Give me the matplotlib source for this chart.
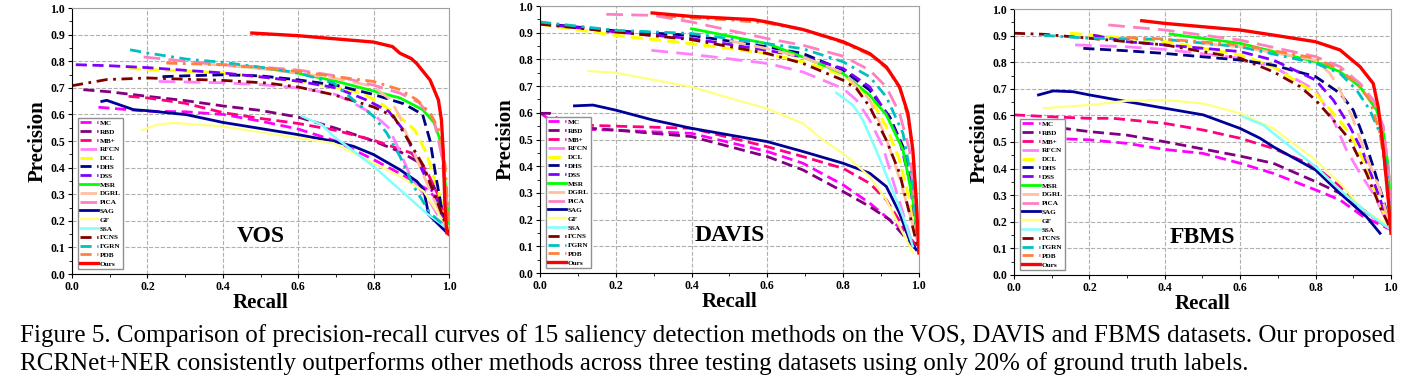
import matplotlib
matplotlib.use('Agg')
import matplotlib.pyplot as plt
from matplotlib.ticker import MultipleLocator

plt.rcParams['font.family'] = ['Liberation Serif', 'DejaVu Serif']

methods = ['MC', 'RBD', 'MB+', 'RFCN', 'DCL', 'DHS', 'DSS', 'MSR', 'DGRL', 'PiCA',
           'SAG', 'GF', 'SSA', 'FCNS', 'FGRN', 'PDB', 'Ours']
colors = ['#FF00FF', '#800080', '#FF0080', '#FF80FF', '#FFFF00', '#000080', '#8000FF',
          '#00FF00', '#FFC0A0', '#FF80C0', '#000099', '#FFFF80', '#80FFFF', '#800000',
          '#00C0C0', '#FF8040', '#FF0000']

DASH = (0, (4, 2))
LDASH = (0, (6, 3))
DDOT = (0, (4, 2, 1, 2))
styles = [DASH, DASH, DASH, LDASH, DASH, DASH, DASH, '-', LDASH, LDASH,
          '-', '-', '-', DDOT, DDOT, DDOT, '-']
widths = [2, 2, 2, 2, 2.2, 2, 2, 2, 2, 2, 2, 1.6, 1.8, 2, 2, 2, 2.4]

# recall / precision per dataset
vos = {
    'MC': ([0.07, 0.2, 0.3, 0.4, 0.5, 0.6, 0.7, 0.8, 0.88, 0.94, 0.97, 1.0],
           [0.627, 0.612, 0.61, 0.6, 0.575, 0.545, 0.5, 0.43, 0.37, 0.32, 0.28, 0.16]),
    'RBD': ([0.03, 0.1, 0.2, 0.3, 0.4, 0.5, 0.6, 0.7, 0.8, 0.87, 0.92, 0.96, 0.98, 1.0],
            [0.693, 0.685, 0.668, 0.652, 0.632, 0.615, 0.59, 0.548, 0.5, 0.46, 0.42, 0.33, 0.25, 0.17]),
    'MB+': ([0.15, 0.2, 0.3, 0.4, 0.5, 0.6, 0.7, 0.8, 0.9, 0.94, 0.97, 1.0],
            [0.668, 0.662, 0.642, 0.607, 0.585, 0.566, 0.54, 0.503, 0.455, 0.39, 0.3, 0.16]),
    'RFCN': ([0.23, 0.3, 0.4, 0.5, 0.6, 0.7, 0.75, 0.8, 0.84, 0.87, 0.9, 0.95, 1.0],
             [0.724, 0.722, 0.719, 0.712, 0.7, 0.675, 0.64, 0.6, 0.55, 0.46, 0.36, 0.27, 0.15]),
    'DCL': ([0.15, 0.2, 0.3, 0.4, 0.5, 0.6, 0.7, 0.77, 0.82, 0.87, 0.91, 0.94, 0.97, 1.0],
            [0.774, 0.768, 0.763, 0.756, 0.742, 0.724, 0.703, 0.68, 0.64, 0.59, 0.54, 0.455, 0.32, 0.17]),
    'DHS': ([0.24, 0.3, 0.4, 0.5, 0.6, 0.7, 0.8, 0.88, 0.93, 0.95, 0.965, 0.98, 1.0],
            [0.742, 0.745, 0.749, 0.745, 0.73, 0.71, 0.675, 0.64, 0.6, 0.5, 0.37, 0.25, 0.165]),
    'DSS': ([0.01, 0.1, 0.2, 0.3, 0.4, 0.5, 0.6, 0.7, 0.78, 0.84, 0.88, 0.915, 0.95, 0.985, 1.0],
            [0.787, 0.783, 0.776, 0.766, 0.756, 0.741, 0.725, 0.7, 0.655, 0.612, 0.54, 0.43, 0.33, 0.2, 0.16]),
    'MSR': ([0.45, 0.5, 0.6, 0.7, 0.8, 0.87, 0.93, 0.96, 0.975, 0.985, 0.993, 1.0],
            [0.781, 0.776, 0.755, 0.725, 0.688, 0.662, 0.618, 0.57, 0.51, 0.42, 0.3, 0.17]),
    'DGRL': ([0.35, 0.4, 0.5, 0.6, 0.7, 0.8, 0.845, 0.87, 0.9, 0.93, 0.96, 1.0],
             [0.79, 0.785, 0.772, 0.755, 0.735, 0.705, 0.655, 0.59, 0.48, 0.38, 0.28, 0.17]),
    'PiCA': ([0.19, 0.3, 0.4, 0.5, 0.6, 0.7, 0.8, 0.87, 0.92, 0.96, 0.98, 1.0],
             [0.816, 0.8, 0.787, 0.778, 0.767, 0.745, 0.71, 0.68, 0.645, 0.58, 0.45, 0.2]),
    'SAG': ([0.079, 0.092, 0.163, 0.2, 0.304, 0.4, 0.6, 0.694, 0.747, 0.8, 0.87, 0.915, 0.933, 0.946, 1.0],
            [0.649, 0.653, 0.618, 0.614, 0.599, 0.57, 0.524, 0.499, 0.48, 0.449, 0.392, 0.348, 0.317, 0.223, 0.148]),
    'GF': ([0.185, 0.225, 0.269, 0.4, 0.6, 0.694, 0.8, 0.87, 0.933, 1.0],
           [0.54, 0.561, 0.568, 0.555, 0.511, 0.492, 0.417, 0.367, 0.311, 0.167]),
    'SSA': ([0.61, 0.663, 0.694, 0.8, 0.87, 0.94, 1.0],
            [0.593, 0.561, 0.518, 0.405, 0.317, 0.229, 0.167]),
    'FCNS': ([0.0, 0.092, 0.2, 0.4, 0.517, 0.6, 0.694, 0.8, 0.853, 0.897, 0.933, 0.96, 1.0],
             [0.708, 0.731, 0.737, 0.728, 0.718, 0.703, 0.674, 0.628, 0.593, 0.492, 0.405, 0.305, 0.154]),
    'FGRN': ([0.154, 0.2, 0.304, 0.4, 0.517, 0.6, 0.694, 0.756, 0.8, 0.835, 0.87, 0.906, 0.95, 1.0],
             [0.843, 0.831, 0.808, 0.796, 0.774, 0.756, 0.718, 0.643, 0.593, 0.53, 0.442, 0.33, 0.229, 0.167]),
    'PDB': ([0.25, 0.4, 0.6, 0.694, 0.8, 0.87, 0.915, 0.95, 0.977, 0.99, 1.0],
            [0.793, 0.787, 0.762, 0.743, 0.724, 0.693, 0.655, 0.605, 0.53, 0.405, 0.167]),
    'Ours': ([0.477, 0.6, 0.8, 0.85, 0.87, 0.9, 0.914, 0.95, 0.972, 0.98, 0.985, 0.989, 0.994, 1.0],
             [0.906, 0.896, 0.872, 0.855, 0.83, 0.81, 0.792, 0.729, 0.654, 0.579, 0.455, 0.267, 0.154, 0.15]),
}

davis = {
    'MC': ([0.0, 0.06, 0.2, 0.4, 0.6, 0.694, 0.8, 0.87, 0.923, 0.958, 0.993],
           [0.6, 0.54, 0.535, 0.523, 0.455, 0.411, 0.33, 0.262, 0.199, 0.162, 0.1]),
    'RBD': ([0.0, 0.026, 0.078, 0.2, 0.4, 0.6, 0.694, 0.8, 0.87, 0.923, 0.993],
            [0.598, 0.598, 0.548, 0.535, 0.511, 0.436, 0.386, 0.305, 0.249, 0.199, 0.087]),
    'MB+': ([0.113, 0.2, 0.4, 0.6, 0.694, 0.8, 0.87, 0.914, 0.958, 0.993],
            [0.554, 0.55, 0.542, 0.473, 0.436, 0.392, 0.336, 0.274, 0.174, 0.1]),
    'RFCN': ([0.294, 0.4, 0.6, 0.694, 0.8, 0.835, 0.87, 0.905, 0.931, 0.958, 0.984],
             [0.834, 0.819, 0.785, 0.753, 0.691, 0.648, 0.573, 0.473, 0.349, 0.224, 0.1]),
    'DCL': ([0.0, 0.2, 0.4, 0.6, 0.694, 0.8, 0.87, 0.914, 0.949, 0.975, 1.0],
            [0.932, 0.89, 0.859, 0.822, 0.791, 0.741, 0.66, 0.548, 0.423, 0.274, 0.1]),
    'DHS': ([0.0, 0.2, 0.4, 0.6, 0.694, 0.8, 0.87, 0.923, 0.958, 0.984, 1.0],
            [0.935, 0.907, 0.89, 0.847, 0.822, 0.76, 0.685, 0.585, 0.473, 0.299, 0.1]),
    'DSS': ([0.0, 0.2, 0.4, 0.6, 0.694, 0.8, 0.87, 0.914, 0.949, 0.975, 1.0],
            [0.934, 0.903, 0.878, 0.834, 0.809, 0.766, 0.697, 0.598, 0.498, 0.349, 0.1]),
    'MSR': ([0.4, 0.6, 0.694, 0.8, 0.87, 0.914, 0.958, 0.984, 1.0],
            [0.915, 0.859, 0.809, 0.747, 0.666, 0.592, 0.461, 0.274, 0.1]),
    'DGRL': ([0.5, 0.6, 0.7, 0.8, 0.87, 0.915, 0.95, 0.98, 1.0],
             [0.87, 0.84, 0.805, 0.75, 0.65, 0.5, 0.35, 0.2, 0.1]),
    'PiCA': ([0.175, 0.298, 0.4, 0.6, 0.694, 0.8, 0.87, 0.914, 0.949, 0.975, 0.988, 1.0],
             [0.969, 0.965, 0.94, 0.878, 0.853, 0.812, 0.76, 0.697, 0.598, 0.461, 0.274, 0.1]),
    'SAG': ([0.091, 0.14, 0.2, 0.298, 0.4, 0.6, 0.694, 0.8, 0.87, 0.914, 0.949, 0.975, 0.993],
            [0.626, 0.629, 0.61, 0.573, 0.542, 0.492, 0.455, 0.411, 0.374, 0.324, 0.224, 0.125, 0.087]),
    'GF': ([0.127, 0.166, 0.2, 0.4, 0.518, 0.6, 0.694, 0.747, 0.8, 0.87, 0.914, 0.958, 0.984],
           [0.757, 0.753, 0.75, 0.697, 0.648, 0.616, 0.56, 0.498, 0.448, 0.361, 0.274, 0.149, 0.075]),
    'SSA': ([0.782, 0.826, 0.852, 0.887, 0.923, 0.958, 0.984],
            [0.675, 0.629, 0.573, 0.461, 0.336, 0.212, 0.1]),
    'FCNS': ([0.0, 0.2, 0.4, 0.6, 0.694, 0.8, 0.835, 0.87, 0.914, 0.949, 0.975, 1.0],
             [0.932, 0.903, 0.874, 0.822, 0.785, 0.722, 0.691, 0.623, 0.498, 0.374, 0.224, 0.075]),
    'FGRN': ([0.0, 0.2, 0.4, 0.6, 0.694, 0.8, 0.87, 0.914, 0.958, 0.984, 1.0],
             [0.94, 0.909, 0.897, 0.859, 0.84, 0.791, 0.735, 0.66, 0.523, 0.324, 0.112]),
    'PDB': ([0.33, 0.4, 0.5, 0.6, 0.7, 0.8, 0.87, 0.92, 0.95, 0.97, 0.985, 1.0],
            [0.963, 0.955, 0.948, 0.936, 0.91, 0.862, 0.818, 0.76, 0.69, 0.59, 0.45, 0.09]),
    'Ours': ([0.296, 0.4, 0.562, 0.6, 0.694, 0.8, 0.87, 0.914, 0.949, 0.971, 0.984, 0.993, 1.0],
             [0.974, 0.961, 0.949, 0.94, 0.912, 0.866, 0.822, 0.772, 0.697, 0.598, 0.461, 0.274, 0.075]),
}

fbms = {
    'MC': ([0.095, 0.2, 0.299, 0.4, 0.502, 0.6, 0.688, 0.8, 0.865, 0.927, 1.0],
           [0.514, 0.508, 0.495, 0.472, 0.457, 0.42, 0.382, 0.32, 0.282, 0.219, 0.17]),
    'RBD': ([0.034, 0.095, 0.2, 0.299, 0.4, 0.6, 0.688, 0.8, 0.865, 0.927, 1.0],
            [0.57, 0.558, 0.539, 0.526, 0.501, 0.447, 0.42, 0.351, 0.307, 0.244, 0.17]),
    'MB+': ([0.0, 0.095, 0.2, 0.263, 0.4, 0.502, 0.6, 0.688, 0.8, 0.865, 0.927, 1.0],
            [0.602, 0.595, 0.589, 0.589, 0.57, 0.545, 0.514, 0.476, 0.407, 0.332, 0.244, 0.17]),
    'RFCN': ([0.162, 0.299, 0.4, 0.6, 0.688, 0.8, 0.847, 0.882, 0.918, 0.953, 1.0],
             [0.865, 0.858, 0.848, 0.815, 0.783, 0.695, 0.583, 0.47, 0.382, 0.307, 0.17]),
    'DCL': ([0.149, 0.2, 0.4, 0.6, 0.688, 0.8, 0.847, 0.891, 0.927, 0.953, 1.0],
            [0.909, 0.902, 0.877, 0.827, 0.783, 0.683, 0.608, 0.533, 0.432, 0.332, 0.17]),
    'DHS': ([0.184, 0.299, 0.4, 0.6, 0.688, 0.8, 0.865, 0.9, 0.927, 0.953, 0.98, 1.0],
            [0.852, 0.843, 0.833, 0.808, 0.789, 0.746, 0.683, 0.62, 0.52, 0.407, 0.282, 0.17]),
    'DSS': ([0.21, 0.299, 0.4, 0.6, 0.688, 0.8, 0.847, 0.891, 0.927, 0.953, 1.0],
            [0.902, 0.877, 0.865, 0.84, 0.808, 0.733, 0.658, 0.558, 0.457, 0.357, 0.17]),
    'MSR': ([0.414, 0.6, 0.688, 0.8, 0.865, 0.918, 0.962, 0.98, 0.993, 1.0],
            [0.906, 0.871, 0.84, 0.802, 0.764, 0.708, 0.62, 0.533, 0.407, 0.22]),
    'DGRL': ([0.5, 0.6, 0.8, 0.838, 0.865, 0.9, 0.935, 0.971, 1.0],
             [0.87, 0.858, 0.808, 0.758, 0.695, 0.583, 0.445, 0.32, 0.17]),
    'PiCA': ([0.25, 0.4, 0.6, 0.8, 0.865, 0.918, 0.953, 0.98, 0.998, 1.0],
             [0.94, 0.921, 0.883, 0.821, 0.783, 0.72, 0.658, 0.558, 0.332, 0.17]),
    'SAG': ([0.065, 0.104, 0.157, 0.2, 0.299, 0.4, 0.502, 0.6, 0.653, 0.688, 0.8, 0.865, 0.935, 0.971],
            [0.677, 0.692, 0.689, 0.677, 0.652, 0.627, 0.602, 0.551, 0.514, 0.482, 0.395, 0.307, 0.219, 0.157]),
    'GF': ([0.079, 0.2, 0.299, 0.4, 0.502, 0.6, 0.688, 0.8, 0.865, 0.927, 1.0],
           [0.627, 0.639, 0.655, 0.658, 0.645, 0.608, 0.551, 0.432, 0.345, 0.244, 0.182]),
    'SSA': ([0.608, 0.661, 0.688, 0.8, 0.865, 0.927, 1.0],
            [0.595, 0.564, 0.533, 0.407, 0.32, 0.244, 0.17]),
    'FCNS': ([0.0, 0.079, 0.2, 0.4, 0.6, 0.688, 0.759, 0.8, 0.847, 0.891, 0.935, 0.971, 1.0],
             [0.909, 0.905, 0.89, 0.865, 0.815, 0.764, 0.708, 0.658, 0.583, 0.508, 0.382, 0.257, 0.17]),
    'FGRN': ([0.079, 0.2, 0.4, 0.6, 0.8, 0.865, 0.909, 0.944, 0.971, 0.989, 1.0],
             [0.901, 0.89, 0.886, 0.858, 0.796, 0.758, 0.695, 0.62, 0.533, 0.407, 0.17]),
    'PDB': ([0.299, 0.4, 0.6, 0.8, 0.865, 0.909, 0.944, 0.971, 0.984, 1.0],
            [0.893, 0.887, 0.865, 0.815, 0.771, 0.72, 0.658, 0.533, 0.407, 0.17]),
    'Ours': ([0.339, 0.4, 0.6, 0.688, 0.8, 0.865, 0.918, 0.953, 0.966, 0.98, 0.993, 1.0],
             [0.956, 0.946, 0.921, 0.902, 0.877, 0.846, 0.783, 0.72, 0.633, 0.47, 0.282, 0.157]),
}

datasets = [('VOS', vos), ('DAVIS', davis), ('FBMS', fbms)]
axes_rects = [[0.0509, 0.2974, 0.2664, 0.682],
              [0.3816, 0.3000, 0.2678, 0.6846],
              [0.7166, 0.2949, 0.2664, 0.682]]

fig = plt.figure(figsize=(14.15, 3.9), dpi=100)

for (name, data), rect in zip(datasets, axes_rects):
    ax = fig.add_axes(rect)
    for m, c, ls, lw in zip(methods, colors, styles, widths):
        r, p = data[m]
        ax.plot(r, p, color=c, linestyle=ls, linewidth=lw, label=m)
    ax.set_xlim(0, 1)
    ax.set_ylim(0, 1)
    ax.xaxis.set_major_locator(MultipleLocator(0.2))
    ax.xaxis.set_minor_locator(MultipleLocator(0.1))
    ax.yaxis.set_major_locator(MultipleLocator(0.1))
    ax.yaxis.set_minor_locator(MultipleLocator(0.05))
    ax.set_xticklabels([f'{v:.1f}' for v in ax.get_xticks()])
    ax.set_yticklabels([f'{v:.1f}' for v in ax.get_yticks()])
    ax.tick_params(which='major', length=3, width=0.8, labelsize=8.5, pad=2)
    ax.tick_params(which='minor', length=2, width=0.6)
    for lab in ax.get_xticklabels() + ax.get_yticklabels():
        lab.set_fontweight('bold')
    ax.grid(True, which='major', color='#b0b0b0', linestyle='--', linewidth=0.8)
    ax.spines['top'].set_color('#a0a0a0')
    ax.spines['right'].set_color('#a0a0a0')
    ax.set_xlabel('Recall', fontsize=15, fontweight='bold', labelpad=0)
    ax.set_ylabel('Precision', fontsize=15, fontweight='bold', labelpad=2)
    ax.text(0.5, 0.142, name, transform=ax.transAxes, ha='center', va='center',
            fontsize=17, fontweight='bold')
    leg = ax.legend(loc='lower left', bbox_to_anchor=(0.016, 0.019), borderaxespad=0,
                    labelspacing=0.38, handlelength=2.4, handletextpad=0.3,
                    borderpad=0.3, fancybox=False, framealpha=1, edgecolor='#909090',
                    prop={'weight': 'bold', 'size': 5.2})
    leg.get_frame().set_linewidth(1.0)

fig.text(20 / 1415, 1 - 342 / 390,
         'Figure 5. Comparison of precision-recall curves of 15 saliency detection methods '
         'on the VOS, DAVIS and FBMS datasets. Our proposed',
         fontsize=18, ha='left', va='baseline')
fig.text(20 / 1415, 1 - 370 / 390,
         'RCRNet+NER consistently outperforms other methods across three testing datasets '
         'using only 20% of ground truth labels.',
         fontsize=18, ha='left', va='baseline')

fig.savefig('out.png', dpi=100)
